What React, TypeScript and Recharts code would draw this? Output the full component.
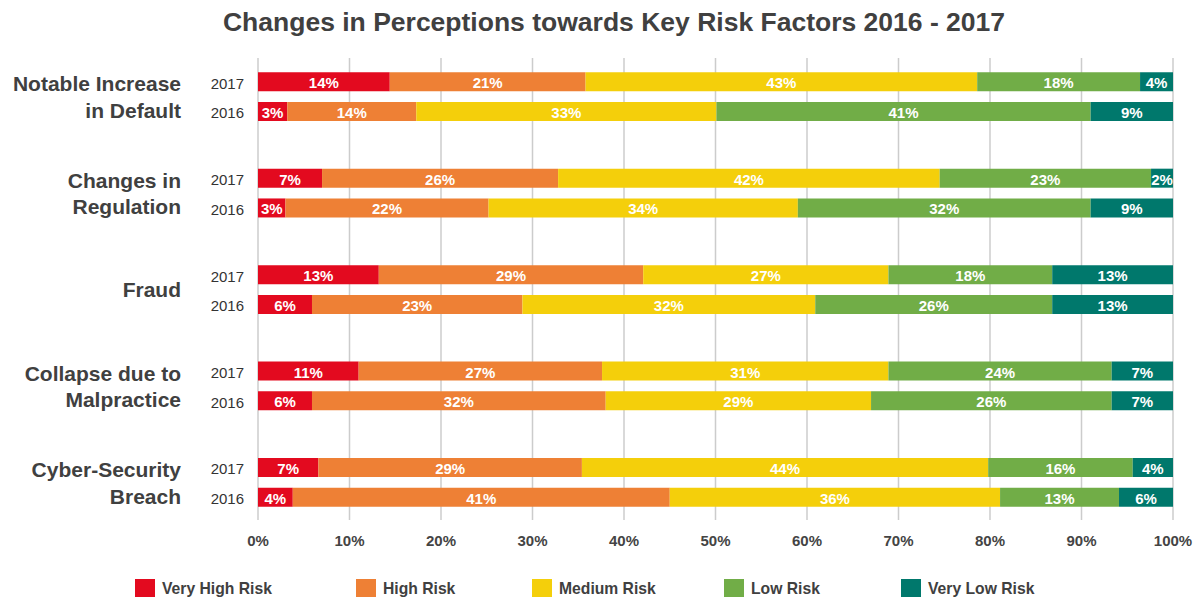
import React from "react";
import { BarChart, Bar, XAxis, YAxis, CartesianGrid, Legend, LabelList } from "recharts";

const title = "Changes in Perceptions towards Key Risk Factors 2016 - 2017";
const categories = [
  "Notable Increase\nin Default",
  "Changes in\nRegulation",
  "Fraud",
  "Collapse due to\nMalpractice",
  "Cyber-Security\nBreach",
];
const years = ["2017", "2016"];

// order: [cat0-2017, cat0-2016, cat1-2017, cat1-2016, ...]
const veryHighRisk = [14.4, 3.2, 7.0, 3.0, 13.2, 5.9, 11.0, 5.9, 6.6, 3.8];
const highRisk = [21.4, 14.1, 25.8, 22.2, 28.9, 23.0, 26.6, 32.1, 28.8, 41.2];
const mediumRisk = [42.8, 32.8, 41.7, 33.8, 26.8, 32.0, 31.3, 29.0, 44.4, 36.1];
const lowRisk = [17.8, 40.9, 23.1, 32.0, 17.9, 25.9, 24.4, 26.3, 15.8, 13.0];
const veryLowRisk = [3.6, 9.0, 2.4, 9.0, 13.2, 13.2, 6.7, 6.7, 4.4, 5.9];

const seriesKeys = ["veryHigh", "high", "medium", "low", "veryLow"];
const seriesNames = ["Very High Risk", "High Risk", "Medium Risk", "Low Risk", "Very Low Risk"];
const seriesColors = ["#E30A1F", "#EE8035", "#F4CF0B", "#71AD47", "#00786C"];
const seriesValues = [veryHighRisk, highRisk, mediumRisk, lowRisk, veryLowRisk];

const xTicks = [0, 10, 20, 30, 40, 50, 60, 70, 80, 90, 100];

const FONT = '"Liberation Sans", Arial, Helvetica, sans-serif';
const GROUP_STEP = 3.24;
const ROW_PX = 29.8;

const data = categories.flatMap((cat, g) =>
  years.map((yr, j) => {
    const i = g * 2 + j;
    const row: any = { pos: g * GROUP_STEP + j, category: cat, year: yr, first: j === 0 };
    seriesKeys.forEach((k, s) => {
      row[k] = seriesValues[s][i];
    });
    return row;
  })
);
const yTicks = data.map((d) => d.pos);

const YTick = (props: any) => {
  const { x, y, payload } = props;
  const row = data.find((d) => Math.abs(d.pos - payload.value) < 1e-6);
  if (!row) return null;
  const lines = row.category.split("\n");
  const center = y + ROW_PX / 2;
  return (
    <g>
      <text x={x} y={y + 6.5} textAnchor="end" fill="#333" fontSize={15} fontFamily={FONT}>
        {row.year}
      </text>
      {row.first &&
        lines.map((ln: string, k: number) => (
          <text
            key={k}
            x={x - 63}
            y={center + 7.5 + (k - (lines.length - 1) / 2) * 26.4}
            textAnchor="end"
            fill="#404040"
            fontSize={21}
            fontWeight="bold"
            fontFamily={FONT}
          >
            {ln}
          </text>
        ))}
    </g>
  );
};

const BarLabel = (props: any) => {
  const { x, y, width, height, value } = props;
  if (value == null) return null;
  return (
    <text
      x={x + width / 2}
      y={y + height / 2 + 6.5}
      textAnchor="middle"
      fill="#ffffff"
      fontSize={15}
      fontWeight="bold"
      fontFamily={FONT}
    >
      {Math.round(value) + "%"}
    </text>
  );
};

const legendLeft = [135, 356, 532, 724, 901];

const LegendContent = () => (
  <div style={{ position: "relative", width: 1203, height: 22, fontFamily: FONT }}>
    {seriesNames.map((n, i) => (
      <div key={n} style={{ position: "absolute", left: legendLeft[i], top: 0, height: 22 }}>
        <div
          style={{
            position: "absolute",
            left: 0,
            top: 2.3,
            width: 19.5,
            height: 18,
            background: seriesColors[i],
          }}
        />
        <div
          style={{
            position: "absolute",
            left: 27,
            top: 3.7,
            whiteSpace: "nowrap",
            fontSize: 15.7,
            lineHeight: "16px",
            fontWeight: "bold",
            color: "#404040",
          }}
        >
          {n}
        </div>
      </div>
    ))}
  </div>
);

export default function App() {
  return (
    <div style={{ position: "absolute", left: 0, top: 0, width: 1203, height: 598, background: "#fff" }}>
      <div
        style={{
          position: "absolute",
          left: 0,
          top: 8.6,
          width: 1228,
          textAlign: "center",
          fontFamily: FONT,
          fontSize: 26.5,
          lineHeight: "26.5px",
          fontWeight: "bold",
          color: "#404040",
          whiteSpace: "nowrap",
          zIndex: 2,
        }}
      >
        {title}
      </div>
      <BarChart
        width={1203}
        height={598}
        data={data}
        layout="vertical"
        margin={{ top: 58, right: 30, left: 0, bottom: 48 }}
      >
        <CartesianGrid horizontal={false} vertical={true} stroke="#cccccc" strokeWidth={1.5} />
        <XAxis
          type="number"
          domain={[0, 100]}
          ticks={xTicks}
          interval={0}
          allowDataOverflow
          axisLine={false}
          tickLine={false}
          tickSize={0}
          tickMargin={15}
          height={30}
          tickFormatter={(v: number) => v + "%"}
          tick={{ fill: "#444", fontSize: 15, fontWeight: "bold", fontFamily: FONT }}
        />
        <YAxis
          type="number"
          dataKey="pos"
          domain={[-0.81, 4 * GROUP_STEP + 1.75]}
          allowDataOverflow
          ticks={yTicks}
          interval={0}
          axisLine={false}
          tickLine={false}
          tickSize={0}
          tickMargin={14}
          width={258}
          tick={<YTick />}
        />
        <Legend
          layout="vertical"
          verticalAlign="middle"
          align="center"
          wrapperStyle={{ position: "absolute", top: 577, left: 0, width: 1203, height: 22 }}
          content={<LegendContent />}
        />
        {seriesKeys.map((k, s) => (
          <Bar
            key={k}
            dataKey={k}
            name={seriesNames[s]}
            stackId="a"
            fill={seriesColors[s]}
            barSize={19}
            isAnimationActive={false}
          >
            <LabelList dataKey={k} content={<BarLabel />} />
          </Bar>
        ))}
      </BarChart>
    </div>
  );
}
